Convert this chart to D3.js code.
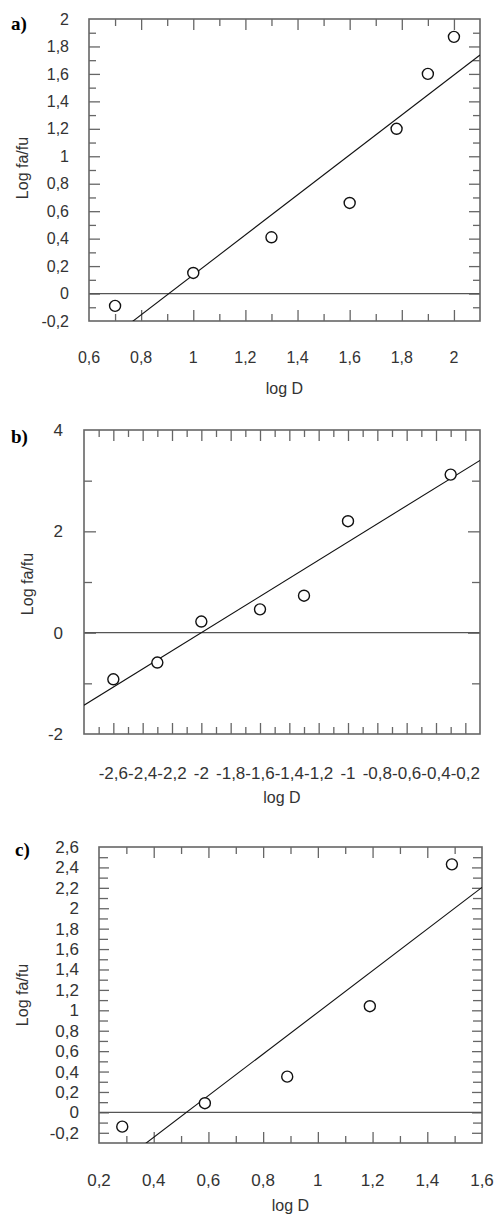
<!DOCTYPE html>
<html>
<head>
<meta charset="utf-8">
<script src="https://cdn.jsdelivr.net/npm/d3@7"></script>
<style>
    body { margin: 0; background: #fff; }
    svg { display: block; }
    .tick-label { font-family: "Liberation Sans", Arial, sans-serif; fill: #333; }
    .axis-title { font-family: "Liberation Sans", Arial, sans-serif; fill: #333; font-size: 16px; }
    .panel-label { font-family: "Liberation Serif", "Times New Roman", serif; font-weight: bold; font-size: 19px; fill: #000; }
</style>
</head>
<body>
<div id="chart"></div>
<script>
// panel a
var aX = [0.7, 1.0, 1.3, 1.6, 1.78, 1.9, 2.0];
var aY = [-0.09, 0.15, 0.41, 0.66, 1.2, 1.6, 1.87];
var aFit = [1.456, -1.32];   // slope, intercept
var aXTicks = [0.6, 0.8, 1, 1.2, 1.4, 1.6, 1.8, 2];
var aYTicks = [-0.2, 0, 0.2, 0.4, 0.6, 0.8, 1, 1.2, 1.4, 1.6, 1.8, 2];

// panel b
var bX = [-2.6, -2.3, -2.0, -1.6, -1.3, -1.0, -0.3];
var bY = [-0.92, -0.59, 0.22, 0.46, 0.73, 2.2, 3.12];
var bFit = [1.79, 3.58];
var bXTicks = [-2.6, -2.4, -2.2, -2, -1.8, -1.6, -1.4, -1.2, -1, -0.8, -0.6, -0.4, -0.2];
var bYTicks = [-2, 0, 2, 4];

// panel c
var cX = [0.285, 0.587, 0.888, 1.19, 1.49];
var cY = [-0.14, 0.09, 0.35, 1.04, 2.43];
var cFit = [2.04, -1.06];
var cXTicks = [0.2, 0.4, 0.6, 0.8, 1, 1.2, 1.4, 1.6];
var cYTicks = [-0.2, 0, 0.2, 0.4, 0.6, 0.8, 1, 1.2, 1.4, 1.6, 1.8, 2, 2.2, 2.4, 2.6];

var svg = d3.select("#chart")
    .append("svg")
        .attr("width", 496)
        .attr("height", 1215)
;

function comma(d) {
    return (+d.toFixed(1)).toString().replace(".", ",");
}

function drawPanel(p) {
    var g = svg.append("g");

    var x = d3.scaleLinear().domain(p.xDomain).range([p.left, p.right]);
    var y = d3.scaleLinear().domain(p.yDomain).range([p.bottom, p.top]);

    var clipId = "clip-" + p.name;
    g.append("clipPath").attr("id", clipId)
        .append("rect")
            .attr("x", p.left).attr("y", p.top)
            .attr("width", p.right - p.left).attr("height", p.bottom - p.top);

    // minor / major ticks, all four sides pointing inward
    var xMinor = d3.range(p.xDomain[0], p.xDomain[1] + 1e-9, p.xStep)
        .filter(function(v) { return x(v) > p.left + 2 && x(v) < p.right - 2; });
    var yMinor = d3.range(p.yDomain[0], p.yDomain[1] + 1e-9, p.yStep)
        .filter(function(v) { return y(v) < p.bottom - 2 && y(v) > p.top + 2; });

    function isMajor(list) {
        return function(v) { return list.some(function(t) { return Math.abs(t - v) < 1e-6; }); };
    }
    var xMaj = isMajor(p.xTicks), yMaj = isMajor(p.yTicks);

    function addAxis(axis, tx, ty) {
        var a = g.append("g")
            .attr("transform", "translate(" + tx + "," + ty + ")")
            .call(axis);
        a.select(".domain").remove();
        a.selectAll("line").attr("stroke", "#666").attr("stroke-width", 1.3);
    }

    [false, true].forEach(function(major) {
        var xv = xMinor.filter(function(v) { return xMaj(v) === major; });
        var yv = yMinor.filter(function(v) { return yMaj(v) === major; });
        var xl = major ? p.xLong : p.xShort;
        var yl = major ? p.yLong : p.yShort;
        addAxis(d3.axisBottom(x).tickValues(xv).tickSizeInner(-xl).tickSizeOuter(0).tickFormat(""), 0, p.bottom);
        addAxis(d3.axisTop(x).tickValues(xv).tickSizeInner(-xl).tickSizeOuter(0).tickFormat(""), 0, p.top);
        addAxis(d3.axisLeft(y).tickValues(yv).tickSizeInner(-yl).tickSizeOuter(0).tickFormat(""), p.left, 0);
        addAxis(d3.axisRight(y).tickValues(yv).tickSizeInner(-yl).tickSizeOuter(0).tickFormat(""), p.right, 0);
    });

    // zero line
    g.append("line")
        .attr("x1", p.left).attr("x2", p.right)
        .attr("y1", y(0)).attr("y2", y(0))
        .attr("stroke", "#555").attr("stroke-width", 1.2);

    // frame
    g.append("rect")
        .attr("x", p.left).attr("y", p.top)
        .attr("width", p.right - p.left).attr("height", p.bottom - p.top)
        .attr("fill", "none").attr("stroke", "#666").attr("stroke-width", 1.6);

    // regression line
    var fx = [p.xDomain[0], p.xDomain[1]];
    g.append("path")
        .datum(fx)
        .attr("clip-path", "url(#" + clipId + ")")
        .attr("d", d3.line()
            .x(function(d) { return x(d); })
            .y(function(d) { return y(p.fit[0] * d + p.fit[1]); }))
        .attr("fill", "none").attr("stroke", "#111").attr("stroke-width", 1.1);

    // points
    g.append("g").selectAll("circle")
        .data(p.xs)
        .enter().append("circle")
            .attr("cx", function(d) { return x(d); })
            .attr("cy", function(d, i) { return y(p.ys[i]); })
            .attr("r", 5.5)
            .attr("fill", "#fff")
            .attr("stroke", "#111")
            .attr("stroke-width", 1.4);

    // tick labels
    g.append("g").selectAll("text")
        .data(p.xTicks)
        .enter().append("text")
            .attr("class", "tick-label")
            .attr("x", function(d) { return x(d); })
            .attr("y", p.xLabelY)
            .attr("dy", "0.35em")
            .style("font-size", p.fontSize + "px")
            .style("text-anchor", "middle")
            .text(comma);

    g.append("g").selectAll("text")
        .data(p.yTicks)
        .enter().append("text")
            .attr("class", "tick-label")
            .attr("x", p.yLabelX)
            .attr("y", function(d) { return y(d); })
            .attr("dy", "0.35em")
            .style("font-size", p.fontSize + "px")
            .style("text-anchor", "end")
            .text(comma);

    // titles
    g.append("text")
        .attr("class", "axis-title")
        .attr("x", (p.left + p.right) / 2)
        .attr("y", p.xTitleY)
        .attr("dy", "0.35em")
        .style("text-anchor", "middle")
        .text("log D");

    g.append("text")
        .attr("class", "axis-title")
        .attr("transform", "translate(" + p.yTitleX + "," + p.yTitleY + ") rotate(-90)")
        .attr("dy", "0.35em")
        .style("text-anchor", "middle")
        .text("Log fa/fu");

    g.append("text")
        .attr("class", "panel-label")
        .attr("x", p.labelX)
        .attr("y", p.labelY)
        .text(p.name + ")");
}

drawPanel({
    name: "a", xs: aX, ys: aY, fit: aFit, xTicks: aXTicks, yTicks: aYTicks,
    xDomain: [0.6, 2.1], yDomain: [-0.2, 2], xStep: 0.1, yStep: 0.1,
    left: 89, right: 480, top: 19, bottom: 321,
    xShort: 7, xLong: 11, yShort: 7, yLong: 11,
    fontSize: 16, xLabelY: 357, yLabelX: 69, xTitleY: 388, yTitleX: 22, yTitleY: 168,
    labelX: 11, labelY: 30
});

drawPanel({
    name: "b", xs: bX, ys: bY, fit: bFit, xTicks: bXTicks, yTicks: bYTicks,
    xDomain: [-2.8, -0.1], yDomain: [-2, 4], xStep: 0.1, yStep: 1,
    left: 84, right: 480, top: 430, bottom: 734,
    xShort: 7, xLong: 11, yShort: 8, yLong: 12,
    fontSize: 17, xLabelY: 773, yLabelX: 63, xTitleY: 797, yTitleX: 27, yTitleY: 584,
    labelX: 11, labelY: 443
});

drawPanel({
    name: "c", xs: cX, ys: cY, fit: cFit, xTicks: cXTicks, yTicks: cYTicks,
    xDomain: [0.2, 1.6], yDomain: [-0.3, 2.6], xStep: 0.1, yStep: 0.1,
    left: 99, right: 482, top: 847, bottom: 1143,
    xShort: 7, xLong: 11, yShort: 9, yLong: 10,
    fontSize: 17, xLabelY: 1180, yLabelX: 79, xTitleY: 1205, yTitleX: 22, yTitleY: 995,
    labelX: 15, labelY: 856
});
</script>
</body>
</html>
